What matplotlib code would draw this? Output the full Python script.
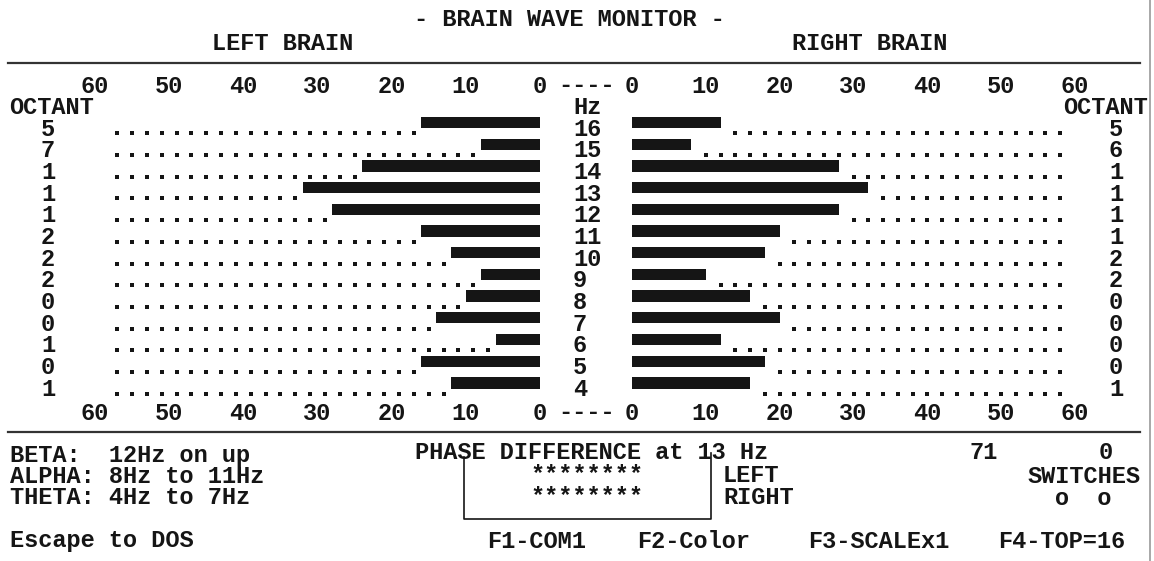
import numpy as np
import matplotlib.pyplot as plt
from matplotlib.transforms import blended_transform_factory

# rows, top to bottom
hz = [16, 15, 14, 13, 12, 11, 10, 9, 8, 7, 6, 5, 4]
left_power = [16, 8, 24, 32, 28, 16, 12, 8, 10, 14, 6, 16, 12]
right_power = [12, 8, 28, 32, 28, 20, 18, 10, 16, 20, 12, 18, 16]
left_octant = [5, 7, 1, 1, 1, 2, 2, 2, 0, 0, 1, 0, 1]
right_octant = [5, 6, 1, 1, 1, 1, 2, 2, 0, 0, 0, 0, 1]
scale_ticks = [0, 10, 20, 30, 40, 50, 60]
scale_max = 60

W, H = 1154, 561
plt.rcParams['font.family'] = ['Liberation Mono', 'DejaVu Sans Mono']
plt.rcParams['font.weight'] = 'bold'
FS = 17
INK = '#151515'

fig = plt.figure(figsize=(W / 100, H / 100), dpi=100)


def px_axes(x0, x1, y0, y1):
    return fig.add_axes([x0 / W, 1 - y1 / H, (x1 - x0) / W, (y1 - y0) / H])


# full screen overlay in pixel coords for the text mode stuff
screen = px_axes(0, W, 0, H)
screen.set_xlim(0, W)
screen.set_ylim(H, 0)
screen.axis('off')

# bar panels
rows = np.arange(len(hz))
row_top, row_bot = 100, 400
ylim = ((row_bot - 129) / 21.7, (row_top - 129) / 21.7)

axL = px_axes(95, 540, row_top, row_bot)
axR = px_axes(632, 1075, row_top, row_bot)

for ax, power, side in [(axL, left_power, 'L'), (axR, right_power, 'R')]:
    ax.barh(rows - 0.3, power, height=0.52, color=INK)
    for r, v in zip(rows, power):
        if side == 'L':
            xs = np.arange(v + 1, scale_max - 2, 2)
        else:
            xs = np.arange(v + 2, scale_max - 1, 2)
        ax.scatter(xs, np.full(len(xs), r + 0.2), marker='s', s=6,
                   color=INK, linewidths=0)
    ax.set_ylim(*ylim)
    ax.set_xticks(scale_ticks)
    ax.set_xticklabels([str(t) for t in scale_ticks])
    ax.tick_params(axis='x', length=0, labelsize=FS, labelcolor=INK,
                   labeltop=True, labelbottom=True, pad=1.5)
    ax.set_yticks([])
    for s in ax.spines.values():
        s.set_visible(False)
    ax.patch.set_alpha(0)

axL.set_xlim(scale_max, 0)
axR.set_xlim(0, scale_max)

# row labels: x in screen pixels, y in row units
rowtr = blended_transform_factory(screen.transData, axL.transData)
for r in rows:
    axL.text(573, r, str(hz[r]), transform=rowtr, ha='left', va='center',
             fontsize=FS, color=INK, clip_on=False)
    axL.text(48, r, str(left_octant[r]), transform=rowtr, ha='center',
             va='center', fontsize=FS, color=INK, clip_on=False)
    axL.text(1116, r, str(right_octant[r]), transform=rowtr, ha='center',
             va='center', fontsize=FS, color=INK, clip_on=False)


def txt(x, y, s, ha='left'):
    screen.text(x, y, s, ha=ha, va='center', fontsize=FS, color=INK)


txt(569, 19, '- BRAIN WAVE MONITOR -', ha='center')
txt(283, 43, 'LEFT BRAIN', ha='center')
txt(870, 43, 'RIGHT BRAIN', ha='center')
txt(586, 85, '----', ha='center')
txt(586, 412, '----', ha='center')
txt(9, 107, 'OCTANT')
txt(1063, 107, 'OCTANT')
txt(573, 107, 'Hz')

txt(10, 455, 'BETA:  12Hz on up')
txt(10, 476, 'ALPHA: 8Hz to 11Hz')
txt(10, 497, 'THETA: 4Hz to 7Hz')
txt(10, 541, 'Escape to DOS')

txt(415, 452, 'PHASE DIFFERENCE at 13 Hz')
txt(587, 475, '********', ha='center')
txt(587, 497, '********', ha='center')
txt(723, 475, 'LEFT')
txt(723, 497, 'RIGHT')
txt(984, 452, '71', ha='center')
txt(1106, 452, '0', ha='center')
txt(1084, 476, 'SWITCHES', ha='center')
txt(1083, 498, 'o  o', ha='center')

txt(487, 541, 'F1-COM1')
txt(637, 541, 'F2-Color')
txt(808, 541, 'F3-SCALEx1')
txt(998, 541, 'F4-TOP=16')

# separators, bracket and the screen edge
screen.plot([8, 1140], [63, 63], color='#333333', lw=1.6)
screen.plot([8, 1140], [432, 432], color='#333333', lw=1.6)
screen.plot([464, 464, 711, 711], [457, 519, 519, 453], color=INK, lw=1.2)
screen.plot([1150, 1150], [0, H], color='#999999', lw=1.2)

fig.savefig('out.png', dpi=100)
